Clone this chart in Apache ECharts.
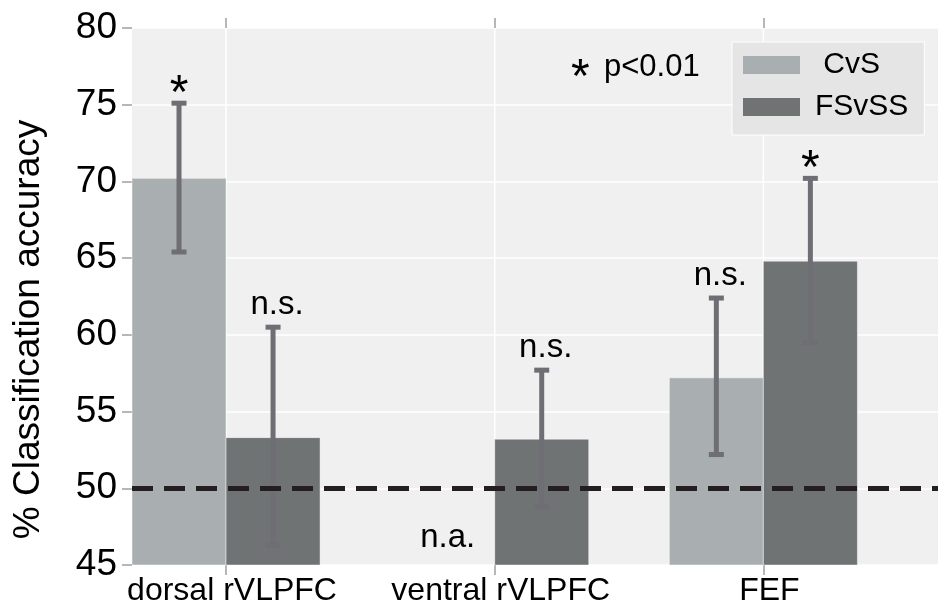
<!DOCTYPE html>
<html>
<head>
<meta charset="utf-8">
<script src="https://cdn.jsdelivr.net/npm/echarts@6/dist/echarts.min.js"></script>
<style>
html,body{margin:0;padding:0;background:#fff;}
#chart{width:938px;height:610px;}
</style>
</head>
<body>
<div id="chart"></div>
<script>
// ---- data ----
const categories = ['dorsal rVLPFC', 'ventral rVLPFC', 'FEF'];
const seriesNames = [' CvS', 'FSvSS'];
const cvsMean    = [70.2, null, 57.2];
const cvsErrLow  = [65.4, null, 52.2];
const cvsErrHigh = [75.1, null, 62.4];
const cvsNote    = ['*', 'n.a.', 'n.s.'];
const fsMean     = [53.3, 53.2, 64.8];
const fsErrLow   = [46.3, 48.8, 59.5];
const fsErrHigh  = [60.5, 57.7, 70.2];
const fsNote     = ['n.s.', 'n.s.', '*'];
const chanceLevel = 50;
const yMin = 45, yMax = 80, yStep = 5;
const catIdx = [0, 1, 2];

// ---- style ----
const FONT = "'Liberation Sans', Arial, Helvetica, sans-serif";
const BAR_W = 0.35;
const colors = ['#a9afb0', '#6f7373'];
const errColor = '#6e6e74';

function makeData(mean, lo, hi) {
  return catIdx.map(i => [i, mean[i] == null ? '-' : mean[i], lo[i] == null ? '-' : lo[i], hi[i] == null ? '-' : hi[i]]);
}

function makeRender(side, notes) {
  return function (params, api) {
    const i = api.value(0);
    const m = api.value(1);
    const lo = api.value(2);
    const hi = api.value(3);
    const x0 = i + (side === 0 ? -BAR_W : 0);
    const xc = x0 + BAR_W / 2;
    const note = notes[params.dataIndex];
    const children = [];
    if (!isNaN(m)) {
      const p1 = api.coord([x0, m]);
      const p2 = api.coord([x0 + BAR_W, yMin]);
      children.push({
        type: 'rect',
        shape: {x: p1[0], y: p1[1], width: p2[0] - p1[0], height: p2[1] - p1[1]},
        style: {fill: colors[side], stroke: 'rgba(255,255,255,0.45)', lineWidth: 1}
      });
      const ph = api.coord([xc, hi]);
      const pl = api.coord([xc, lo]);
      children.push({type: 'line', shape: {x1: ph[0], y1: ph[1], x2: pl[0], y2: pl[1]}, style: {stroke: errColor, lineWidth: 5}});
      children.push({type: 'line', shape: {x1: ph[0] - 7.5, y1: ph[1], x2: ph[0] + 7.5, y2: ph[1]}, style: {stroke: errColor, lineWidth: 5}});
      children.push({type: 'line', shape: {x1: pl[0] - 7.5, y1: pl[1], x2: pl[0] + 7.5, y2: pl[1]}, style: {stroke: errColor, lineWidth: 5}});
      if (note === '*') {
        children.push({type: 'text', style: {text: note, x: ph[0], y: ph[1] - 8.5, align: 'center', verticalAlign: 'middle', font: '48px ' + FONT, fill: '#000'}});
      } else if (note) {
        children.push({type: 'text', style: {text: note, x: ph[0] + 4, y: ph[1] - 22, align: 'center', verticalAlign: 'middle', font: '33px ' + FONT, fill: '#000'}});
      }
    } else if (note) {
      const pb = api.coord([xc, yMin]);
      children.push({type: 'text', style: {text: note, x: pb[0], y: pb[1] - 27, align: 'center', verticalAlign: 'middle', font: '33px ' + FONT, fill: '#000'}});
    }
    return {type: 'group', children: children};
  };
}

const chart = echarts.init(document.getElementById('chart'), null, {renderer: 'canvas'});
chart.setOption({
  animation: false,
  backgroundColor: '#ffffff',
  textStyle: {fontFamily: FONT},
  grid: {left: 132, right: 0, top: 28, bottom: 45, show: true, backgroundColor: '#f0f0f0', borderWidth: 0, outerBoundsMode: 'none', containLabel: false},
  legend: {
    orient: 'vertical', left: 732, top: 42,
    data: seriesNames,
    icon: 'rect', itemWidth: 57, itemHeight: 18, itemGap: 12,
    padding: [8, 16, 13, 11],
    backgroundColor: '#e5e5e5', borderColor: '#ffffff', borderWidth: 1, borderRadius: 0,
    selectedMode: false,
    textStyle: {fontSize: 30, lineHeight: 30, color: '#000', fontFamily: FONT, padding: [0, 0, 0, 10]}
  },
  graphic: [
    {type: 'text', left: 571, top: 55, style: {text: '*', font: '48px ' + FONT, fill: '#000'}, z: 100},
    {type: 'text', left: 604, top: 52, style: {text: 'p<0.01', font: '31px ' + FONT, fill: '#000'}, z: 100}
  ],
  xAxis: [
    {
      type: 'value', min: -BAR_W, max: 3 - BAR_W, position: 'bottom',
      axisLine: {show: false, onZero: false},
      axisTick: {show: true, customValues: catIdx, length: 10, lineStyle: {color: '#a0a0a0', width: 1.5}},
      axisLabel: {show: true, customValues: catIdx, formatter: v => categories[Math.round(v)] || '', fontSize: 32, color: '#000', margin: 10, padding: [0, 0, 0, 12], fontFamily: FONT},
      splitLine: {show: false}
    },
    {
      type: 'value', min: -BAR_W, max: 3 - BAR_W, position: 'top',
      axisLine: {show: false, onZero: false},
      axisTick: {show: true, customValues: catIdx, length: 10, lineStyle: {color: '#a0a0a0', width: 1.5}},
      axisLabel: {show: false},
      splitLine: {show: false}
    }
  ],
  yAxis: {
    type: 'value', min: yMin, max: yMax, interval: yStep, position: 'left',
    name: '% Classification accuracy', nameLocation: 'middle', nameRotate: 90, nameGap: 85,
    nameTextStyle: {fontSize: 37, color: '#000', fontFamily: FONT, padding: [0, 66, 0, 0]},
    axisLine: {show: false, onZero: false},
    axisTick: {show: true, length: 10, lineStyle: {color: '#a0a0a0', width: 1.5}},
    axisLabel: {fontSize: 37, color: '#000', margin: 15, fontFamily: FONT},
    splitLine: {show: true, lineStyle: {color: '#ffffff', width: 1.5}}
  },
  series: [
    {
      name: 'vgrid', type: 'custom', xAxisIndex: 0, z: 1, silent: true,
      data: catIdx.map(i => [i]),
      renderItem: function (params, api) {
        const a = api.coord([api.value(0), yMin]);
        const b = api.coord([api.value(0), yMax]);
        return {type: 'line', shape: {x1: a[0], y1: a[1], x2: b[0], y2: b[1]}, style: {stroke: '#ffffff', lineWidth: 1.5}};
      }
    },
    {
      name: seriesNames[0], type: 'custom', xAxisIndex: 0, z: 2,
      itemStyle: {color: colors[0]},
      data: makeData(cvsMean, cvsErrLow, cvsErrHigh),
      renderItem: makeRender(0, cvsNote)
    },
    {
      name: seriesNames[1], type: 'custom', xAxisIndex: 0, z: 2,
      itemStyle: {color: colors[1]},
      data: makeData(fsMean, fsErrLow, fsErrHigh),
      renderItem: makeRender(1, fsNote),
      markLine: {
        silent: true, symbol: 'none', z: 5,
        label: {show: false},
        lineStyle: {color: '#231f20', width: 5, type: [21, 11]},
        data: [{yAxis: chanceLevel}]
      }
    }
  ]
});
</script>
</body>
</html>
